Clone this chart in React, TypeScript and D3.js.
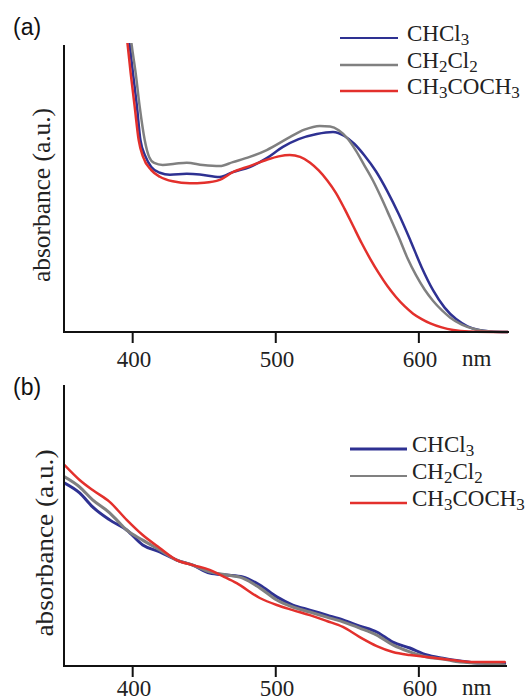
import React from 'react'
import * as d3 from 'd3'

const width = 529
const height = 700

type Pt = [number, number]

// [wavelength nm, absorbance a.u.]
const aChcl3: Pt[] = [
  [395, 1.1], [397.9, 1.0], [400.2, 0.902], [403, 0.785], [405.4, 0.669], [409, 0.611],
  [413, 0.575], [419, 0.555], [426, 0.548], [437.8, 0.551], [446.9, 0.549], [460.8, 0.54],
  [470, 0.557], [481.8, 0.575], [493.7, 0.606], [505, 0.645], [516, 0.672], [528.7, 0.69],
  [540, 0.697], [548, 0.683], [555, 0.655], [562, 0.615], [570, 0.56], [578, 0.49],
  [586, 0.41], [594, 0.32], [602, 0.225], [610, 0.145], [618, 0.085], [626, 0.045],
  [634, 0.02], [642, 0.007], [650, 0.002], [662, 0]
]
const aCh2cl2: Pt[] = [
  [397, 1.1], [399.3, 1.0], [402.1, 0.902], [404.9, 0.785], [408.4, 0.669], [411.4, 0.611],
  [415, 0.589], [421, 0.582], [429.4, 0.586], [437.8, 0.59], [449, 0.582], [460.8, 0.578],
  [470, 0.592], [481.8, 0.61], [493.7, 0.634], [509.8, 0.679], [520, 0.705], [530.8, 0.718],
  [538, 0.716], [544, 0.703], [550, 0.675], [556, 0.632], [562, 0.58], [568, 0.527],
  [574, 0.465], [580, 0.398], [586, 0.33], [592, 0.258], [598, 0.198], [604, 0.148],
  [610, 0.108], [616, 0.076], [622, 0.05], [630, 0.026], [640, 0.009], [650, 0.002], [662, 0]
]
const aCh3coch3: Pt[] = [
  [394, 1.1], [396.5, 1.0], [398.6, 0.902], [401.4, 0.785], [404.2, 0.669], [407.2, 0.611],
  [413, 0.564], [419, 0.541], [428, 0.525], [440, 0.518], [450, 0.52], [460.8, 0.53],
  [470, 0.557], [481.8, 0.578], [493.7, 0.6], [502, 0.612], [509.8, 0.617], [517, 0.61],
  [524, 0.59], [530, 0.563], [536, 0.528], [542, 0.485], [548, 0.43], [554, 0.37],
  [560, 0.31], [566, 0.255], [572, 0.205], [578, 0.16], [584, 0.122], [590, 0.09],
  [596, 0.064], [602, 0.045], [608, 0.03], [616, 0.016], [624, 0.007], [635, 0.002], [662, 0]
]

// panel (b)
const bChcl3: Pt[] = [
  [352.4, 0.651], [362.9, 0.616], [372, 0.566], [383.9, 0.52], [395.8, 0.484], [407, 0.431],
  [418.9, 0.406], [430.8, 0.377], [442, 0.359], [453.8, 0.331], [465.7, 0.324], [476.9, 0.317],
  [488.8, 0.288], [500.7, 0.246], [511.9, 0.217], [523.8, 0.199], [535.7, 0.181], [546.9, 0.164],
  [558.7, 0.142], [570.6, 0.121], [581.8, 0.085], [593.7, 0.064], [605.6, 0.039], [616.8, 0.028],
  [628.7, 0.018], [640.6, 0.011], [660, 0.011]
]
const bCh2cl2: Pt[] = [
  [352.4, 0.673], [362.9, 0.637], [372, 0.591], [383.9, 0.545], [388.8, 0.52], [395.8, 0.484],
  [407, 0.448], [418.9, 0.413], [430.8, 0.377], [442, 0.359], [453.8, 0.335], [465.7, 0.324],
  [476.9, 0.313], [488.8, 0.278], [500.7, 0.235], [511.9, 0.21], [523.8, 0.192], [535.7, 0.174],
  [546.9, 0.157], [558.7, 0.135], [570.6, 0.11], [581.8, 0.075], [593.7, 0.05], [605.6, 0.032],
  [616.8, 0.025], [628.7, 0.014], [640.6, 0.011], [660, 0.004]
]
const bCh3coch3: Pt[] = [
  [352.4, 0.715], [362.9, 0.662], [372, 0.626], [383.9, 0.584], [395.8, 0.52], [407, 0.466],
  [418.9, 0.42], [430.8, 0.377], [442, 0.359], [453.8, 0.342], [462.9, 0.32], [472.7, 0.295],
  [488.8, 0.242], [500.7, 0.217], [511.9, 0.199], [523.8, 0.181], [535.7, 0.16], [546.9, 0.139],
  [558.7, 0.103], [570.6, 0.071], [581.8, 0.05], [593.7, 0.039], [605.6, 0.032], [616.8, 0.025],
  [628.7, 0.018], [640.6, 0.014], [660, 0.014]
]

const solvents = ['CHCl3', 'CH2Cl2', 'CH3COCH3']
const colors = ['#2e3192', '#808080', '#e3302c']
const tickValues = [400, 500, 600]

const serif = 'Liberation Serif'
const sans = 'Liberation Sans'

const x = d3.scaleLinear().domain([352, 663]).range([64, 509])

type PanelProps = {
  id: string,
  letter: string,
  data: Pt[][],
  top: number,
  bottom: number,
  axisEnd: number,
  tickBaseline: number,
  letterBaseline: number,
  ylabel: { x: number, y: number, len: number, size: number },
  legend: { lineX0: number, lineX1: number, textX: number, ys: number[], widths: number[] },
  curveWidths: number[]
}

// split a formula into normal text and subscript digits
const Formula = ({ name }: { name: string }) => {
  const parts = name.match(/\d+|\D+/g) || []
  return (
    <>
      {parts.map((p, i) => /\d/.test(p)
        ? <tspan key={i} fontSize={17} dy={4}>{p}</tspan>
        : <tspan key={i} dy={i > 0 ? -4 : 0}>{p}</tspan>)}
    </>
  )
}

const Panel = (props: PanelProps) => {
  const { id, letter, data, top, bottom, axisEnd, tickBaseline, letterBaseline, ylabel, legend, curveWidths } = props
  const y = d3.scaleLinear().domain([0, 1]).range([bottom, top])
  const line = d3.line<Pt>()
    .x(d => x(d[0]))
    .y(d => y(d[1]))
    .curve(d3.curveMonotoneX)
  const x0 = x.range()[0]

  return (
    <g>
      <defs>
        <clipPath id={id}>
          <rect x={x0} y={top - 2} width={axisEnd - x0} height={bottom - top + 4} />
        </clipPath>
      </defs>
      <text x={13} y={letterBaseline} style={{ fontFamily: sans, fontSize: 23 }} fill="#111">{letter}</text>
      <text transform={`translate(${ylabel.x},${ylabel.y}) rotate(-90)`} x={-ylabel.len / 2}
        style={{ fontFamily: serif, fontSize: ylabel.size }} textLength={ylabel.len} lengthAdjust="spacingAndGlyphs"
        fill="#222"><tspan>absorbance (a.u.)</tspan></text>

      <g clipPath={`url(#${id})`} fill="none" strokeLinejoin="round" strokeLinecap="round">
        {[0, 1, 2].map(i => (
          <path key={i} d={line(data[i]) || ''} stroke={colors[i]} strokeWidth={curveWidths[i]} />
        ))}
      </g>

      <line x1={x0} x2={x0} y1={top} y2={bottom + 1} stroke="#111" strokeWidth={2} />
      <line x1={x0 - 1} x2={axisEnd} y1={bottom} y2={bottom} stroke="#111" strokeWidth={2} />
      {tickValues.map(t => (
        <g key={t}>
          <line x1={x(t)} x2={x(t)} y1={bottom} y2={bottom + 11} stroke="#111" strokeWidth={2} />
          <text x={x(t) + 1 - 17} y={tickBaseline} style={{ fontFamily: serif, fontSize: 23 }} fill="#222">
            <tspan>{t}</tspan>
          </text>
        </g>
      ))}
      <text x={462} y={tickBaseline - 1} style={{ fontFamily: serif, fontSize: 23 }} fill="#222"><tspan>nm</tspan></text>

      {solvents.map((s, i) => (
        <g key={s}>
          <line x1={legend.lineX0} x2={legend.lineX1} y1={legend.ys[i]} y2={legend.ys[i]}
            stroke={colors[i]} strokeWidth={legend.widths[i]} />
          <text x={legend.textX} y={legend.ys[i] + 3} style={{ fontFamily: serif, fontSize: 23 }} fill="#222">
            <Formula name={s} />
          </text>
        </g>
      ))}
    </g>
  )
}

export default function App() {
  return (
    <svg width={width} height={height} style={{ position: 'absolute', left: 0, top: 0, background: '#fff' }}>
      <Panel id="clipA" letter="(a)" data={[aChcl3, aCh2cl2, aCh3coch3]}
        top={45} bottom={332} axisEnd={509} tickBaseline={367} letterBaseline={35}
        ylabel={{ x: 50, y: 195, len: 174, size: 25 }}
        legend={{ lineX0: 340, lineX1: 398, textX: 407, ys: [38, 65, 91], widths: [2, 2.5, 2.5] }}
        curveWidths={[2.5, 2.5, 2.5]} />
      <Panel id="clipB" letter="(b)" data={[bChcl3, bCh2cl2, bCh3coch3]}
        top={385} bottom={666} axisEnd={507} tickBaseline={696} letterBaseline={395}
        ylabel={{ x: 53, y: 543, len: 187, size: 26 }}
        legend={{ lineX0: 350, lineX1: 407, textX: 412, ys: [449, 476, 503], widths: [3, 2, 2.5] }}
        curveWidths={[3, 3, 2.5]} />
    </svg>
  )
}
